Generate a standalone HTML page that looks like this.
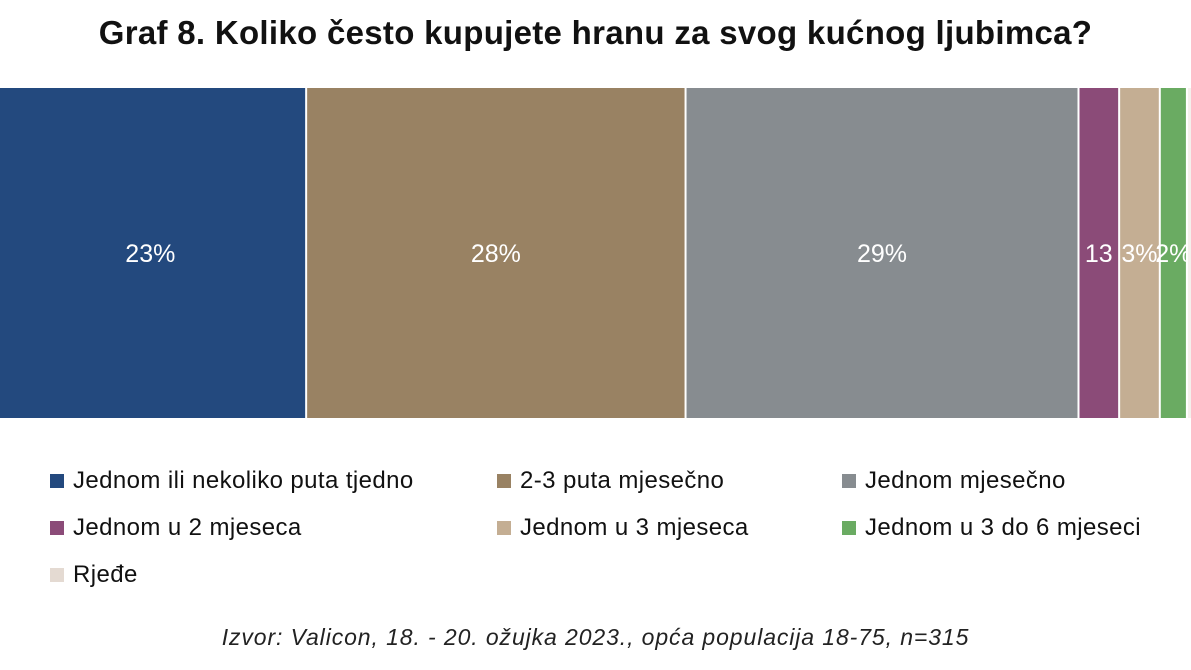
<!DOCTYPE html>
<html><head><meta charset="utf-8"><style>
body{margin:0;width:1191px;height:670px;background:#fff;overflow:hidden;font-family:"Liberation Sans",sans-serif;position:relative}
.title{position:absolute;top:14px;left:0;width:1191px;text-align:center;font-size:33px;font-weight:bold;color:#111;letter-spacing:0.3px}
.leg{position:absolute;font-size:24px;color:#111;display:flex;align-items:center;letter-spacing:0.4px;white-space:nowrap}
.leg span.sw{width:14px;height:14px;margin-right:9px;display:inline-block}
.foot{position:absolute;top:624px;left:0;width:1191px;text-align:center;font-style:italic;font-size:23px;color:#222;letter-spacing:0.9px}
</style></head><body>
<div class="title">Graf 8. Koliko često kupujete hranu za svog kućnog ljubimca?</div>
<svg id="chart" width="1191" height="440" style="position:absolute;top:0;left:0"></svg>
<div id="legend"></div>
<div class="foot">Izvor: Valicon, 18. - 20. ožujka 2023., opća populacija 18-75, n=315</div>
<script>
const categories=["Jednom ili nekoliko puta tjedno","2-3 puta mjesečno","Jednom mjesečno","Jednom u 2 mjeseca","Jednom u 3 mjeseca","Jednom u 3 do 6 mjeseci","Rjeđe"];
const values=[23,28,29,3,3,2,1];
const labels=["23%","28%","29%","13","3%","2%",""];
const colors=["#23497e","#998263","#878c90","#8b4b78","#c4ae93","#6aab62","#f4f0ec"];
const svg=document.getElementById('chart');
const NS="http://www.w3.org/2000/svg";
const x0=-5.5, scale=13.55, y0=88, h=330;
const xs=v=>x0+v*scale;
let cum=0;
values.forEach((v,i)=>{
  const r=document.createElementNS(NS,'rect');
  r.setAttribute('x',xs(cum)+1);r.setAttribute('y',y0);
  r.setAttribute('width',Math.max(0,v*scale-2));r.setAttribute('height',h);
  r.setAttribute('fill',colors[i]);
  
  
  svg.appendChild(r);
  if(labels[i]){
    const t=document.createElementNS(NS,'text');
    t.setAttribute('x',xs(cum+v/2));t.setAttribute('y',y0+h/2+9);
    t.setAttribute('text-anchor','middle');t.setAttribute('fill','#fff');
    t.setAttribute('font-size','25');t.setAttribute('font-family','Liberation Sans, sans-serif');
    t.textContent=labels[i];
    
    
    svg.appendChild(t);
  }
  cum+=v;
});
const lx=[50,497,842], ly=[467,514,561];
const leg=document.getElementById('legend');
categories.forEach((c,i)=>{
  const d=document.createElement('div');
  d.className='leg';
  d.style.left=lx[i%3]+'px';d.style.top=ly[Math.floor(i/3)]+'px';
  d.innerHTML='<span class="sw" style="background:'+(i===6?'#e4dad2':colors[i])+'"></span>'+c;
  
  
  leg.appendChild(d);
});
</script>
</body></html>
